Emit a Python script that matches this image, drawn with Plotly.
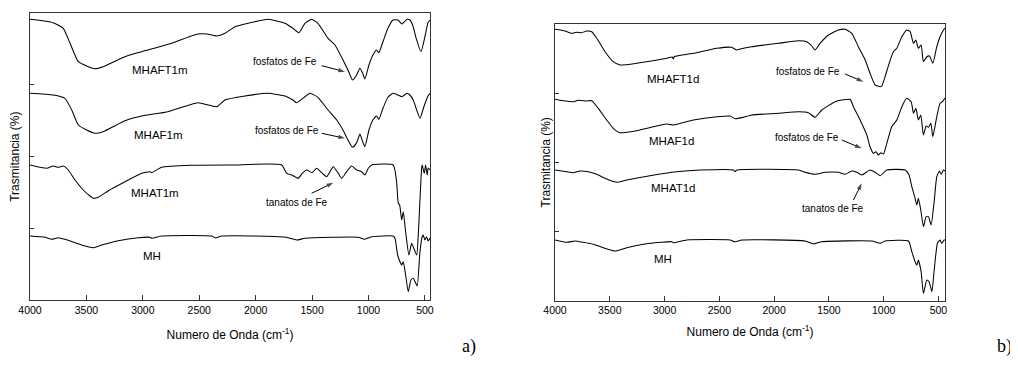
import plotly.graph_objects as go

# ---------------- data (wavenumber cm-1, relative transmittance, offset) ----------------
# Panel a)
wn_aft1m = [4000, 3794, 3705, 3646, 3572, 3498, 3424, 3353, 3158, 3010, 2777, 2511, 2432, 2346, 2272, 2183,
            2095, 1891, 1740, 1670, 1616, 1563, 1504, 1448, 1359, 1297, 1226, 1182, 1141, 1105, 1076, 1052,
            1032, 996, 961, 928, 908, 872, 828, 783, 739, 704, 659, 633, 609, 573, 535, 500, 473, 455]
t_aft1m = [280.7, 277.3, 271.7, 257, 238.3, 234, 231.3, 233.3, 243.3, 248.3, 255.7, 266, 266, 264, 266.7, 273.3,
           276, 280.7, 276.7, 271.7, 267.3, 276.7, 280.7, 276.7, 261.7, 255, 240, 230, 220, 225, 231.7, 226.7,
           221, 235, 245, 250, 247.3, 258.3, 271.7, 280, 280, 276, 280.7, 280, 275, 260, 248.3, 263.3, 277.3, 280]

wn_af1m = [4000, 3794, 3690, 3630, 3572, 3498, 3424, 3353, 3158, 3010, 2777, 2511, 2346, 2272, 2095, 1891,
           1740, 1670, 1637, 1563, 1519, 1448, 1359, 1282, 1226, 1182, 1141, 1105, 1076, 1052, 1032, 996,
           961, 928, 908, 872, 828, 783, 739, 704, 659, 633, 604, 573, 544, 509, 473, 455]
t_af1m = [206.7, 205, 201.7, 190, 175, 170, 166.7, 168.3, 179.3, 184, 188.3, 197.3, 193.3, 200, 204, 206.7,
          204, 200, 197.3, 203.3, 206.7, 202.7, 190, 180, 170, 160, 152.7, 157.3, 166, 158.3, 153.3, 170,
          180, 184, 180.7, 191.7, 202.7, 206.7, 205, 203.3, 206.7, 205, 200, 190, 181.7, 193.3, 204, 206.7]

wn_at1m = [4000, 3852, 3794, 3749, 3705, 3661, 3601, 3528, 3468, 3439, 3395, 3306, 3158, 3010, 2937, 2922,
           2833, 2567, 2213, 1770, 1725, 1681, 1623, 1587, 1548, 1499, 1460, 1415, 1371, 1342, 1312, 1268,
           1238, 1194, 1149, 1105, 1061, 1032, 1002, 972, 781, 751, 736, 724, 706, 692, 671, 642, 618, 604,
           573, 559, 544, 529, 524, 506, 494, 480, 471, 455]
t_at1m = [135, 131.7, 134, 132.7, 134, 130, 120, 110, 104, 101.7, 102.7, 109.3, 118.3, 126.7, 128.3, 127.3,
          132.7, 134.7, 135, 135, 126.7, 125, 121.7, 126.7, 130, 127.3, 131.7, 127.3, 123.3, 128.3, 133.3, 126.7,
          121.7, 128.3, 134, 130, 128.3, 125, 131.7, 135, 135, 118.3, 96.7, 95, 80, 88.3, 68.3, 45, 56.7, 53.3,
          45, 65, 100, 132, 135, 126.7, 135, 125, 132, 130]

wn_mh_a = [4000, 3867, 3808, 3749, 3690, 3601, 3513, 3439, 3365, 3218, 3040, 2937, 2922, 2833, 2390, 2355,
           2301, 1740, 1637, 1563, 1091, 1038, 972, 783, 766, 742, 721, 706, 692, 671, 648, 624, 604, 582,
           568, 544, 524, 515, 500, 485, 471, 455]
t_mh_a = [64, 62.7, 60.7, 62.3, 60.7, 57.3, 54, 52.3, 55, 59.3, 62.3, 62.7, 61.7, 64, 64, 62,
          64, 63, 60, 61.7, 62.7, 60.7, 63.3, 64, 62, 45, 38.3, 35, 38.3, 25, 8.3, 20, 21.7, 17,
          14, 48.3, 63.3, 65, 60, 63.3, 59, 62]

# Panel b)
wn_aft1d = [4000, 3909, 3848, 3802, 3756, 3711, 3665, 3619, 3543, 3468, 3406, 3254, 2980, 2930, 2920, 2910,
            2737, 2523, 2387, 2341, 2281, 2204, 1961, 1778, 1702, 1656, 1626, 1580, 1504, 1413, 1352, 1291,
            1231, 1169, 1124, 1078, 1032, 1017, 987, 950, 911, 880, 834, 789, 758, 728, 706, 683, 658, 637,
            606, 582, 551, 515, 485, 454, 440]
t_aft1d = [270.7, 269, 266.7, 267.7, 267.3, 269, 268.3, 261.7, 248.3, 238.3, 235, 236.7, 241.7, 243, 241, 243.5,
           246.7, 251.7, 252.7, 250, 251.7, 253.3, 256.7, 259.3, 258.3, 254, 250, 256.7, 265, 270, 270.7, 266.7,
           253.3, 240, 226.7, 215, 213.3, 214, 223.3, 236.7, 248.3, 251.7, 263.3, 270, 268.3, 256.7, 260, 251.7, 255, 238.3,
           243.3, 244, 236.7, 253.3, 263.3, 270, 272]

wn_af1d = [4000, 3909, 3833, 3787, 3711, 3665, 3605, 3528, 3468, 3406, 3254, 2980, 2920, 2737, 2523, 2402,
           2356, 2281, 2204, 1961, 1778, 1687, 1626, 1565, 1443, 1382, 1306, 1276, 1215, 1154, 1124, 1094,
           1069, 1048, 1026, 1002, 971, 926, 880, 834, 789, 749, 728, 706, 683, 661, 637, 612, 591, 569,
           551, 515, 485, 463, 448, 440]
t_af1d = [200.7, 199, 198.3, 199.7, 199, 199.3, 191.7, 180, 171.7, 167.3, 169.3, 176, 175, 180, 183.3, 184,
          181.3, 182.7, 185, 186.7, 188.3, 187.3, 182.7, 190, 198.3, 200, 200.7, 193.3, 180, 165, 153.3, 146.7,
          148.3, 145, 147.3, 146, 156.7, 173.3, 180, 193.3, 201.7, 198.3, 186.7, 191.7, 180, 185, 165, 174, 172.7, 176.7,
          163.3, 183.3, 196.7, 198.3, 200.7, 202]

wn_at1d = [4000, 3893, 3833, 3772, 3696, 3619, 3528, 3437, 3345, 3133, 2889, 2676, 2372, 2356, 2341, 1778,
           1717, 1626, 1535, 1413, 1352, 1291, 1245, 1200, 1124, 1078, 1032, 971, 804, 768, 743, 713, 697,
           683, 661, 637, 612, 591, 567, 539, 515, 491, 475, 454, 440]
t_at1d = [130, 128.3, 127.3, 129, 128.3, 125.7, 121, 117.7, 120, 124.3, 128.3, 130, 130, 128.3, 130, 130,
          127.7, 125.7, 127.7, 127.7, 125.7, 129, 127.7, 125, 130, 127.7, 124.3, 130, 130, 125, 113.3, 101.7, 95,
          101.7, 90, 73.3, 83.3, 83.3, 75, 98.3, 123.3, 129, 125.7, 130, 129]

wn_mh_b = [4000, 3893, 3817, 3742, 3650, 3559, 3452, 3345, 3133, 2934, 2920, 2797, 2402, 2356, 2295, 1717,
           1641, 1565, 1108, 1032, 987, 774, 743, 713, 697, 683, 658, 637, 606, 585, 560, 537, 509, 485,
           469, 448, 440]
t_mh_b = [60, 57.7, 59, 57.7, 55.7, 52.3, 49, 52.3, 56.7, 58.3, 57.3, 60, 60, 58.3, 60, 59,
          56, 58.3, 59, 56.7, 59, 59, 48.3, 38.3, 35, 40, 28.3, 6.7, 20, 18.3, 8.3, 31.7, 56.7, 60,
          56.7, 60, 60]

series_a = [("MHAFT1m", wn_aft1m, t_aft1m), ("MHAF1m", wn_af1m, t_af1m),
            ("MHAT1m", wn_at1m, t_at1m), ("MH", wn_mh_a, t_mh_a)]
series_b = [("MHAFT1d", wn_aft1d, t_aft1d), ("MHAF1d", wn_af1d, t_af1d),
            ("MHAT1d", wn_at1d, t_at1d), ("MH", wn_mh_b, t_mh_b)]

x_ticks = [4000, 3500, 3000, 2500, 2000, 1500, 1000, 500]

# annotation arrows: (tail_wn, tail_t, head_wn, head_t, panel)
arrows = [
    (1415, 234.3, 1209, 228.3, "a"), (1415, 166.7, 1209, 161.7, "a"), (1504, 106.7, 1312, 117.3, "a"),
    (1352, 226.0, 1185, 218.3, "b"), (1382, 160.0, 1200, 151.7, "b"), (1276, 100.0, 1200, 116.7, "b"),
]

# ---------------- figure ----------------
# The page body has an 8px margin, so the figure is laid out 8px smaller and shifted.
OFF = 8
W, H = 1018 - OFF, 371 - OFF

def fx(px):
    return (px - OFF) / W

def fy(py):
    return 1 - (py - OFF) / H

fig = go.Figure()
for name, x, y in series_a:
    fig.add_trace(go.Scatter(x=x, y=y, mode="lines", name=name, xaxis="x", yaxis="y",
                             line=dict(color="black", width=1.05, shape="spline", smoothing=0.5)))
for name, x, y in series_b:
    fig.add_trace(go.Scatter(x=x, y=y, mode="lines", name=name, xaxis="x2", yaxis="y2",
                             line=dict(color="black", width=1.05, shape="spline", smoothing=0.5)))

for tx, ty, hx, hy, ax in arrows:
    xa, ya = ("x", "y") if ax == "a" else ("x2", "y2")
    fig.add_trace(go.Scatter(x=[tx, hx], y=[ty, hy], mode="lines+markers", xaxis=xa, yaxis=ya,
                             line=dict(color="black", width=1),
                             marker=dict(symbol=["circle", "arrow"], size=[0, 7], angleref="previous",
                                         standoff=0, color="black", line=dict(width=0)),
                             hoverinfo="skip"))

font = "Arial, Liberation Sans, sans-serif"
xtitle = "Numero de Onda (cm<sup>-1</sup>)"
xcommon = dict(tickvals=x_ticks, ticktext=[str(v) for v in x_ticks], ticks="inside", ticklen=5,
               tickcolor="#333", showline=True, linecolor="#333", linewidth=1, mirror=True,
               showgrid=False, zeroline=False, automargin=False,
               tickfont=dict(family=font, size=10.5, color="black"))
ycommon = dict(showticklabels=False, ticks="inside", ticklen=4, tickcolor="#333", showline=True,
               linecolor="#333", linewidth=1, mirror=True, showgrid=False, zeroline=False,
               automargin=False)

fig.update_layout(
    template="none",
    width=W, height=H, margin=dict(l=0, r=0, t=0, b=0, pad=0), autosize=False,
    paper_bgcolor="white", plot_bgcolor="white", showlegend=False,
    xaxis=dict(domain=[fx(30), fx(430)], range=[4000, 455], anchor="y",
               title=dict(text=xtitle, standoff=16, font=dict(family=font, size=12, color="black")),
               **xcommon),
    yaxis=dict(domain=[fy(300), fy(13.3)], range=[0, 286.7], anchor="x",
               tick0=0, dtick=71.7,
               title=dict(text="Trasmitancia (%)", standoff=12, font=dict(family=font, size=12, color="black")),
               **ycommon),
    xaxis2=dict(domain=[fx(555), fx(945)], range=[4000, 440], anchor="y2",
                title=dict(text=xtitle, standoff=12, font=dict(family=font, size=12, color="black")),
                **xcommon),
    yaxis2=dict(domain=[fy(300.5), fy(24)], range=[-0.5, 276], anchor="x2",
                tick0=-0.5, dtick=69.1,
                title=dict(text="Trasmitancia (%)", standoff=0, font=dict(family=font, size=12, color="black")),
                **ycommon),
)

ann = []
def label(text, x, y, xr, yr, size=11.5):
    ann.append(dict(text=text, x=x, y=y, xref=xr, yref=yr, showarrow=False,
                    font=dict(family=font, size=size, color="black"), xanchor="center", yanchor="middle"))

# panel a labels
label("MHAFT1m", 2848, 230, "x", "y")
label("MHAF1m", 2857, 165, "x", "y")
label("MHAT1m", 2892, 106.7, "x", "y")
label("MH", 2922, 44.3, "x", "y")
label("fosfatos de Fe", 1740, 238.5, "x", "y", 10)
label("fosfatos de Fe", 1725, 169.3, "x", "y", 10)
label("tanatos de Fe", 1637, 97.3, "x", "y", 10)

# panel b labels
label("MHAFT1d", 2920, 220.7, "x2", "y2")
label("MHAF1d", 2934, 159, "x2", "y2")
label("MHAT1d", 2920, 111.7, "x2", "y2")
label("MH", 3011, 40.7, "x2", "y2")
label("fosfatos de Fe", 1693, 228.3, "x2", "y2", 10)
label("fosfatos de Fe", 1702, 162.3, "x2", "y2", 10)
label("tanatos de Fe", 1459, 91.7, "x2", "y2", 10)

serif = "Liberation Serif, Times New Roman, serif"
for txt, px, py in [("a)", 469, 346), ("b)", 1004, 346)]:
    ann.append(dict(text=txt, x=fx(px), y=fy(py), xref="paper", yref="paper", showarrow=False,
                    font=dict(family=serif, size=18, color="black"), xanchor="center", yanchor="middle"))

fig.update_layout(annotations=ann)
fig.write_html("out.html")
